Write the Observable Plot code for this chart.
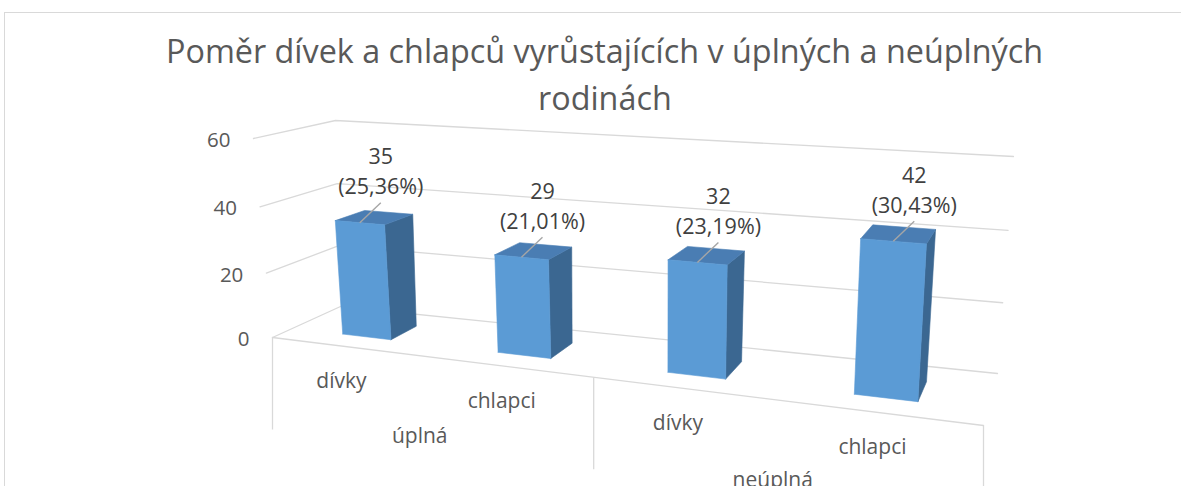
<!DOCTYPE html>
<html>
<head>
<meta charset="utf-8">
<script src="https://cdn.jsdelivr.net/npm/d3@7"></script>
<script src="https://cdn.jsdelivr.net/npm/@observablehq/plot@0.6"></script>
<style>
  html, body { margin: 0; padding: 0; background: #fff; overflow: hidden; }
  #wrap { position: relative; width: 1181px; height: 486px; overflow: hidden; background: #fff; font-family: "Open Sans", sans-serif; }
  #frame { position: absolute; left: 4px; top: 12px; width: 1300px; height: 600px; border-top: 1.5px solid #d9d9d9; border-left: 1.5px solid #d9d9d9; box-sizing: border-box; }
  #title { position: relative; height: 115px; color: #595959; font-size: 33px; }
  #title span { position: absolute; white-space: nowrap; line-height: 33px; transform-origin: 0 0; }
  #plot { position: relative; }
</style>
</head>
<body>
<div id="wrap">
  <div id="frame"></div>
  <div id="title"></div>
  <div id="plot"></div>
</div>
<script>
// ---------------- data ----------------
const titleLines = ["Poměr dívek a chlapců vyrůstajících v úplných a neúplných", "rodinách"];
const groups = ["úplná", "neúplná"];
const categories = ["dívky", "chlapci"];
const counts = [35, 29, 32, 42];
const percents = [25.36, 21.01, 23.19, 30.43];
const yTicks = [0, 20, 40, 60];

// ---------------- layout constants ----------------
const W = 1181, H = 486, TITLE_H = 115;
const TITLE_CENTER = 604.5, TITLE_WIDTH = 877, TITLE_BASELINES = [63, 110];
// 3D box calibration (screen corners of the front and back planes of the chart box)
const FRONT_PLANE = [[272, 337], [983, 425], [999, 186], [253, 138]];
const BACK_PLANE = [[340, 306], [997, 373], [1013, 156], [335, 120]];
const DEPTH0 = 0.3, DEPTH1 = 0.7;   // bar depth range within floor
const BOX_DROP = 92;                 // category box divider length

// ---------------- title ----------------
const titleEl = document.getElementById("title");
const spans = titleLines.map(t => { const s = document.createElement("span"); s.textContent = t; titleEl.appendChild(s); return s; });
function layoutTitle() {
  spans.forEach(sp => sp.style.transform = "none");
  const s = TITLE_WIDTH / spans[0].getBoundingClientRect().width;
  spans.forEach((sp, i) => {
    const w = sp.getBoundingClientRect().width;
    sp.style.left = (TITLE_CENTER - w * s / 2) + "px";
    sp.style.top = (TITLE_BASELINES[i] - 29.3) + "px";
    sp.style.transform = `scaleX(${s})`;
  });
}
layoutTitle();
if (document.fonts && document.fonts.ready) document.fonts.ready.then(layoutTitle);

// ---------------- scales ----------------
const rows = [];
groups.forEach((g, gi) => categories.forEach((c, ci) => {
  const i = gi * categories.length + ci;
  rows.push({group: g, category: c, key: g + "|" + c, count: counts[i], pct: percents[i]});
}));
const bandU = Plot.scale({x: {type: "band", domain: rows.map(d => d.key), range: [0, 1], paddingInner: 0.68, paddingOuter: 0.34}});
const groupU = Plot.scale({x: {type: "band", domain: groups, range: [0, 1], padding: 0}});
const valueV = Plot.scale({y: {type: "linear", domain: [0, d3.max(yTicks)], range: [0, 1]}});

// ---------------- projection ----------------
function quad(p0, p1, p2, p3) {
  const [x0, y0] = p0, [x1, y1] = p1, [x2, y2] = p2, [x3, y3] = p3;
  const sx = x0 - x1 + x2 - x3, sy = y0 - y1 + y2 - y3;
  const dx1 = x1 - x2, dx2 = x3 - x2, dy1 = y1 - y2, dy2 = y3 - y2;
  const den = dx1 * dy2 - dx2 * dy1;
  const g = (sx * dy2 - dx2 * sy) / den, h = (dx1 * sy - sx * dy1) / den;
  const a = x1 - x0 + g * x1, b = x3 - x0 + h * x3, d = y1 - y0 + g * y1, e = y3 - y0 + h * y3;
  return (u, v) => { const q = g * u + h * v + 1; return [(a * u + b * v + x0) / q, (d * u + e * v + y0) / q]; };
}
const frontMap = quad(...FRONT_PLANE), backMap = quad(...BACK_PLANE);
function P(u, v, w) {
  const a = frontMap(u, v), b = backMap(u, v);
  return [a[0] + (b[0] - a[0]) * w, a[1] + (b[1] - a[1]) * w];
}

// ---------------- geometry from data ----------------
const grid = [];
yTicks.forEach(t => {
  const v = valueV.apply(t);
  [[0, v, 0], [0, v, 1], [1, v, 1]].forEach(p => { const [x, y] = P(...p); grid.push({id: "g" + t, x, y}); });
});
[[0, 0, 0], [1, 0, 0]].forEach(p => { const [x, y] = P(...p); grid.push({id: "floor", x, y}); });

const dividers = [];
groups.forEach((g, gi) => {
  const u0 = groupU.apply(g);
  const us = gi === 0 ? [u0, u0 + groupU.bandwidth] : [u0 + groupU.bandwidth];
  us.forEach(u => { const [x, y] = P(u, 0, 0); dividers.push({x, y1: y, y2: y + BOX_DROP}); });
});

const faces = {front: [], side: [], top: []};
const labels = [];
rows.forEach((r, i) => {
  const u0 = bandU.apply(r.key), u1 = u0 + bandU.bandwidth, uc = (u0 + u1) / 2, v = valueV.apply(r.count);
  const add = (type, pts) => pts.forEach(p => { const [x, y] = P(...p); faces[type].push({id: type + i, x, y}); });
  add("side", [[u1, 0, DEPTH0], [u1, 0, DEPTH1], [u1, v, DEPTH1], [u1, v, DEPTH0], [u1, 0, DEPTH0]]);
  add("top", [[u0, v, DEPTH0], [u1, v, DEPTH0], [u1, v, DEPTH1], [u0, v, DEPTH1], [u0, v, DEPTH0]]);
  add("front", [[u0, 0, DEPTH0], [u1, 0, DEPTH0], [u1, v, DEPTH0], [u0, v, DEPTH0], [u0, 0, DEPTH0]]);
  const [ax, ay] = P(uc, v, DEPTH0);
  const [fx, fy] = P(uc, 0, 0);
  labels.push({...r, ax, ay, fx, fy,
    text: `${r.count}\n(${r.pct.toFixed(2).replace(".", ",")}%)`});
});
const groupLabels = groups.map(g => { const [x, y] = P(groupU.apply(g) + groupU.bandwidth / 2, 0, 0); return {g, x, y}; });
const tickLabels = yTicks.map(t => { const [x, y] = P(0, valueV.apply(t), 0); return {t, x, y}; });

// ---------------- plot ----------------
const font = "Open Sans";
const chart = Plot.plot({
  width: W,
  height: H - TITLE_H,
  margin: 0,
  x: {type: "linear", domain: [0, W], range: [0, W], axis: null},
  y: {type: "linear", domain: [TITLE_H, H], range: [0, H - TITLE_H], axis: null},
  style: {fontFamily: font, background: "transparent", overflow: "visible"},
  marks: [
    Plot.line(grid, {x: "x", y: "y", z: "id", stroke: "#d9d9d9", strokeWidth: 1.3}),
    Plot.link(dividers, {x1: "x", x2: "x", y1: "y1", y2: "y2", stroke: "#d9d9d9", strokeWidth: 1.3}),
    Plot.line(faces.side, {x: "x", y: "y", z: "id", fill: "#3b6791", stroke: "#3b6791", strokeWidth: 0.6}),
    Plot.line(faces.top, {x: "x", y: "y", z: "id", fill: "#4a7db3", stroke: "#4a7db3", strokeWidth: 0.6}),
    Plot.line(faces.front, {x: "x", y: "y", z: "id", fill: "#5b9bd5", stroke: "#5b9bd5", strokeWidth: 0.6}),
    Plot.link(labels, {x1: "ax", y1: "ay", x2: d => d.ax + 21, y2: d => d.ay - 20, stroke: "#a6a6a6", strokeWidth: 1.4}),
    Plot.text(labels, {x: d => d.ax + 21, y: d => d.ay - 53, text: "text", fontSize: 21.5, lineHeight: 1.4, fill: "#404040"}),
    Plot.text(tickLabels, {x: d => d.x - 23, y: d => d.y + 2, text: d => String(d.t), textAnchor: "end", fontSize: 20.5, fill: "#595959"}),
    Plot.text(labels, {x: d => d.fx - 6, y: d => d.fy + 34.5, text: "category", fontSize: 21, fill: "#595959"}),
    Plot.text(groupLabels, {x: d => d.x - 6, y: d => d.y + 80, text: "g", fontSize: 21, fill: "#595959"})
  ]
});
document.getElementById("plot").appendChild(chart);
</script>
</body>
</html>
